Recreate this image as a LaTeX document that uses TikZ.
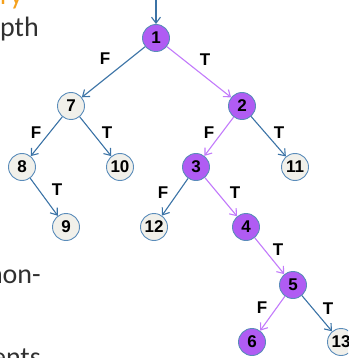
\documentclass[tikz,border=0pt]{standalone}
\usepackage{fontspec}
\setmainfont{Liberation Sans}
\newfontfamily\slidefont{Carlito}
\usepackage{xcolor}
\usetikzlibrary{arrows.meta}
\definecolor{hitpurple}{HTML}{B05CF3}
\definecolor{edgepurple}{HTML}{C27AFB}
\definecolor{edgeblue}{HTML}{3B73A6}
\definecolor{rimblue}{HTML}{5A8CBA}
\definecolor{missgrey}{HTML}{F1F0EA}
\definecolor{slideorange}{HTML}{F5A11C}
\definecolor{slidegrey}{HTML}{303030}

\begin{document}
\begin{tikzpicture}[x=1pt,y=-1pt,
  hit/.style={circle,draw=rimblue,line width=0.9pt,fill=hitpurple,minimum size=27pt,inner sep=0pt,font=\bfseries\fontsize{17}{17}\selectfont},
  miss/.style={hit,fill=missgrey},
  lab/.style={inner sep=0pt,font=\bfseries\fontsize{17}{17}\selectfont},
  fedge/.style={draw=edgeblue,line width=1.1pt,-{Straight Barb[length=6pt,width=9pt]}},
  tedge/.style={fedge,draw=edgepurple},
  slide/.style={inner sep=0pt,anchor=base east,text=slidegrey,font=\slidefont\fontsize{28}{28}\selectfont}]
\useasboundingbox (0,0) rectangle (348,358);
\clip (0,0) rectangle (348,358);
% slide text behind the tree
\node[slide,text=slideorange] (sry) at (23,5) {ry};
\node[slide] (spth) at (39,37) {pth};
\node[slide] (snon) at (41,283) {non-};
\node[slide] (sents) at (41,366) {ents};
%
\coordinate (entry) at (156,-2);
\node[hit] (n1) at (156,38) {1};
\node[miss] (n7) at (71,106) {7};
\node[hit] (n2) at (242,106) {2};
\node[miss] (n8) at (22,167) {8};
\node[miss] (n10) at (120,167) {10};
\node[hit] (n3) at (196,167) {3};
\node[miss] (n11) at (295,167) {11};
\node[miss] (n9) at (66,227) {9};
\node[miss] (n12) at (154,227) {12};
\node[hit] (n4) at (246,227) {4};
\node[hit] (n5) at (293,285) {5};
\node[hit] (n6) at (252,342) {6};
\node[miss] (n13) at (341,342) {13};
%
\draw[fedge] (entry) -- (n1);
\draw[fedge] (n1) -- (n7);
\draw[tedge] (n1) -- (n2);
\draw[fedge] (n7) -- (n8);
\draw[fedge] (n7) -- (n10);
\draw[tedge] (n2) -- (n3);
\draw[fedge] (n2) -- (n11);
\draw[fedge] (n8) -- (n9);
\draw[fedge] (n3) -- (n12);
\draw[tedge] (n3) -- (n4);
\draw[tedge] (n4) -- (n5);
\draw[tedge] (n5) -- (n6);
\draw[fedge] (n5) -- (n13);
%
\node[lab] (l17) at (105,59) {F};
\node[lab] (l12) at (205,60) {T};
\node[lab] (l78) at (36,133) {F};
\node[lab] (l710) at (107,133) {T};
\node[lab] (l23) at (209,133) {F};
\node[lab] (l211) at (279,133) {T};
\node[lab] (l89) at (57,190) {T};
\node[lab] (l312) at (163,193) {F};
\node[lab] (l34) at (235,193) {T};
\node[lab] (l45) at (278,250) {T};
\node[lab] (l56) at (262,308) {F};
\node[lab] (l513) at (328,309) {T};
\end{tikzpicture}
\end{document}
